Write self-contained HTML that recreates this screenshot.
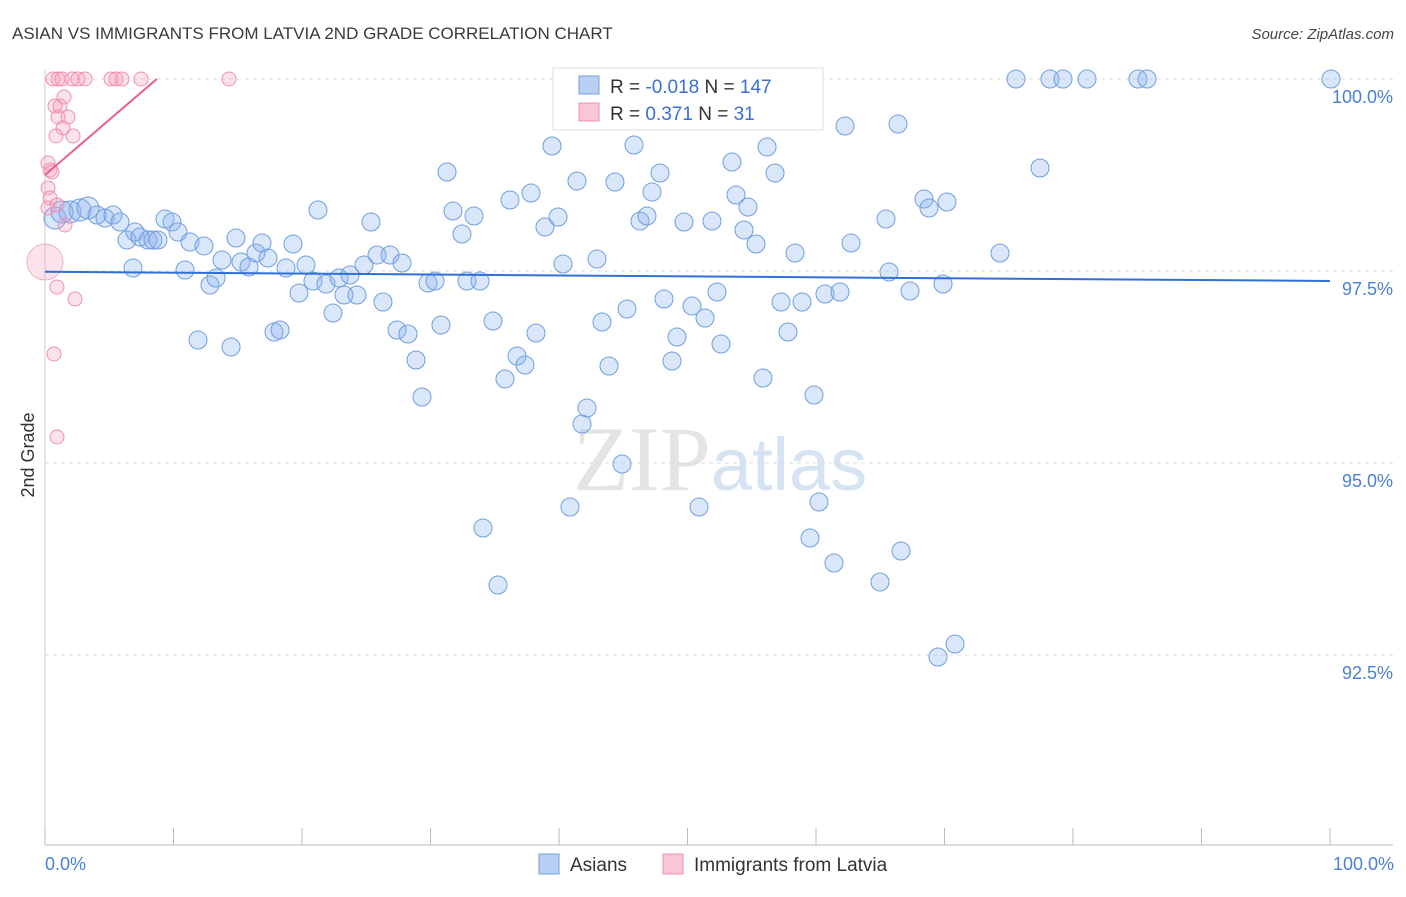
<!DOCTYPE html>
<html><head><meta charset="utf-8"><style>
body{margin:0;background:#fff;font-family:"Liberation Sans",sans-serif}
</style></head><body>
<svg id="chart" width="1406" height="892" viewBox="0 0 1406 892" xmlns="http://www.w3.org/2000/svg" font-family="Liberation Sans, sans-serif">
<text x="12" y="39" font-size="17" fill="#3a3a3a">ASIAN VS IMMIGRANTS FROM LATVIA 2ND GRADE CORRELATION CHART</text>
<text x="1394" y="39" font-size="15" fill="#444" text-anchor="end" font-style="italic">Source: ZipAtlas.com</text>
<text x="720" y="490" font-size="92" text-anchor="middle" fill="#e4e4e4"><tspan font-family="Liberation Serif, serif">ZIP</tspan><tspan fill="#d6e3f3" font-size="74">atlas</tspan></text>
<g id="grid"></g><g id="axes"></g><g id="pts"></g><g id="trend"></g>
<text transform="translate(34,455) rotate(-90)" font-size="18" fill="#333" text-anchor="middle">2nd Grade</text>
<text x="45" y="870" font-size="18" fill="#4a7fd4">0.0%</text>
<text x="1394" y="870" font-size="18" fill="#4a7fd4" text-anchor="end">100.0%</text>
<g xml:space="preserve">
<rect x="553" y="68" width="270" height="62" fill="#fff" stroke="#ddd"/>
<rect x="579" y="76" width="20" height="18" fill="#b9d0f3" stroke="#6fa0e0"/>
<rect x="579" y="103" width="20" height="18" fill="#f9c6d6" stroke="#f08fb0"/>
<text x="610" y="93" font-size="19" fill="#333">R = <tspan fill="#3a6fd0">-0.018</tspan>    N = <tspan fill="#3a6fd0">147</tspan></text>
<text x="610" y="120" font-size="19" fill="#333">R =   <tspan fill="#3a6fd0">0.371</tspan>    N =   <tspan fill="#3a6fd0">31</tspan></text>
</g>
<g>
<rect x="539" y="854" width="20" height="20" fill="#b9d0f3" stroke="#6fa0e0"/>
<text x="570" y="871" font-size="19" fill="#333">Asians</text>
<rect x="663" y="854" width="20" height="20" fill="#f9c6d6" stroke="#f08fb0"/>
<text x="694" y="871" font-size="19" fill="#333">Immigrants from Latvia</text>
</g>
</svg>
<script>
const yTicks=[100,97.5,95,92.5];
const yTickLabels=["100.0%","97.5%","95.0%","92.5%"];
const xTicks=[0,10,20,30,40,50,60,70,80,90,100];
const asianPx=[[1016,79],[1050,79],[1063,79],[1087,79],[1138,79],[1147,79],[1331,79],[55,218],[62,212],[70,212],[80,210],[88,208],[97,215],[105,218],[113,215],[120,222],[127,240],[135,232],[140,237],[148,240],[153,240],[158,240],[165,219],[172,222],[178,232],[133,268],[185,270],[190,242],[198,340],[204,246],[210,285],[216,278],[222,260],[231,347],[236,238],[241,262],[249,267],[256,253],[262,243],[268,258],[274,332],[280,330],[286,268],[293,244],[299,293],[306,265],[313,281],[318,210],[326,284],[333,313],[339,278],[344,295],[350,275],[357,295],[364,265],[371,222],[377,255],[383,302],[390,255],[397,330],[402,263],[408,334],[416,360],[422,397],[428,283],[435,281],[441,325],[447,172],[453,211],[462,234],[467,281],[474,216],[480,281],[483,528],[493,321],[498,585],[505,379],[510,200],[517,356],[525,365],[531,193],[536,333],[545,227],[552,146],[558,217],[563,264],[570,507],[577,181],[582,424],[587,408],[597,259],[602,322],[609,366],[615,182],[622,464],[627,309],[634,145],[640,221],[647,216],[652,192],[660,173],[664,299],[672,361],[677,337],[684,222],[692,306],[699,507],[705,318],[712,221],[717,292],[721,344],[732,162],[736,195],[744,230],[748,207],[756,244],[763,378],[767,147],[775,173],[781,302],[788,332],[795,253],[802,302],[810,538],[814,395],[819,502],[825,294],[834,563],[840,292],[845,126],[851,243],[880,582],[886,219],[889,272],[898,124],[901,551],[910,291],[924,199],[929,208],[938,657],[943,284],[947,202],[955,644],[1000,253],[1040,168]];
const latviaPx=[[53,79],[58,79],[62,79],[72,79],[78,79],[85,79],[111,79],[116,79],[122,79],[141,79],[229,79],[55,106],[60,106],[64,97],[68,117],[58,117],[63,128],[56,136],[73,136],[48,163],[50,170],[52,172],[48,188],[50,198],[48,208],[57,205],[65,225],[57,287],[75,299],[54,354],[57,437]];
const asianX=asianPx.map(p=>(p[0]-45)/12.85), asianY=asianPx.map(p=>100-(p[1]-79)/76.8);
const latviaX=latviaPx.map(p=>(p[0]-45)/12.85), latviaY=latviaPx.map(p=>100-(p[1]-79)/76.8);
const asianTrend=[[0,97.49],[100,97.37]];
const latviaTrend=[[0,98.75],[8.7,100]];
const NS="http://www.w3.org/2000/svg";
const sx=v=>45+v*12.85, sy=v=>79+(100-v)*76.8;
function mk(tag,attrs,parent){const e=document.createElementNS(NS,tag);for(const k in attrs)e.setAttribute(k,attrs[k]);parent.appendChild(e);return e;}
const grid=document.getElementById('grid'),axes=document.getElementById('axes'),pts=document.getElementById('pts'),tr=document.getElementById('trend');
yTicks.forEach((t,i)=>{
 const l=mk('line',{x1:45,x2:1393,y1:sy(t),y2:sy(t),stroke:'#ddd','stroke-dasharray':'4,4'},grid);
 
 
 const tx=mk('text',{x:1393,y:sy(t)+24,'font-size':18,fill:'#4a7fd4','text-anchor':'end'},grid);
 tx.textContent=yTickLabels[i];
 
 
});
const ax=mk('line',{x1:45,x2:1393,y1:845,y2:845,stroke:'#bbb'},axes);


const ay=mk('line',{x1:45,x2:45,y1:70,y2:845,stroke:'#ccc'},axes);


xTicks.forEach(t=>{const l=mk('line',{x1:sx(t),x2:sx(t),y1:828,y2:845,stroke:'#bbb'},axes);
 
 });
asianX.forEach((x,i)=>{const c=mk('circle',{cx:sx(x),cy:sy(asianY[i]),r:(i>=7&&i<12)?11:9,fill:'rgba(140,178,238,0.32)',stroke:'#6fa0e0','stroke-width':1},pts);
 
 });
latviaX.forEach((x,i)=>{const c=mk('circle',{cx:sx(x),cy:sy(latviaY[i]),r:7,fill:'rgba(245,160,190,0.3)',stroke:'#f08fb0','stroke-width':1},pts);
 
 });
const big=mk('circle',{cx:45,cy:262,r:18,fill:'rgba(245,160,190,0.3)',stroke:'#f4b0c6'},pts);


const t1=mk('line',{x1:sx(asianTrend[0][0]),y1:sy(asianTrend[0][1]),x2:sx(asianTrend[1][0]),y2:sy(asianTrend[1][1]),stroke:'#2f6fd6','stroke-width':2},tr);


const t2=mk('line',{x1:sx(latviaTrend[0][0]),y1:sy(latviaTrend[0][1]),x2:sx(latviaTrend[1][0]),y2:sy(latviaTrend[1][1]),stroke:'#e8608a','stroke-width':2},tr);


</script>
</body></html>
